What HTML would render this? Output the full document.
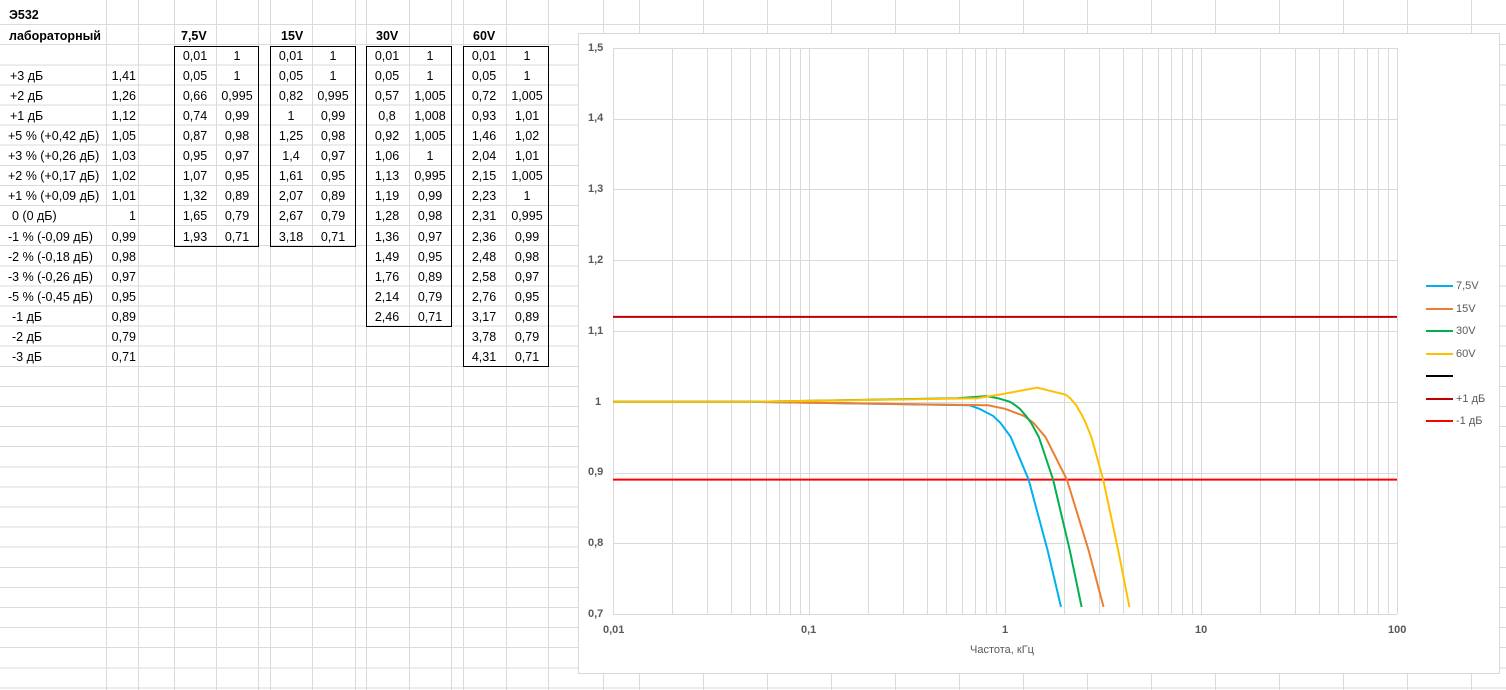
<!DOCTYPE html>
<html><head><meta charset="utf-8">
<style>
body{margin:0;width:1506px;height:690px;overflow:hidden;background:#fff;font-family:"Liberation Sans","DejaVu Sans",sans-serif;}
#sheet{position:absolute;left:0;top:0;width:1506px;height:690px;
background-image:repeating-linear-gradient(to bottom,transparent 0,transparent 19.1px,#dadada 19.1px,#dadada 20.1px);background-position:0 5px;}
.t{position:absolute;font-size:12.5px;color:#000;white-space:nowrap;line-height:20px;}
.b{font-weight:bold}
.c{text-align:center;width:42px}
.r{text-align:right;width:30px}
.box{position:absolute;border:1px solid #000;box-sizing:border-box}
svg{position:absolute;left:0;top:0}
</style></head><body>
<div id="sheet"></div>
<svg id="g" width="1506" height="690"></svg>
<div class="t b" style="left:9px;top:5px">Э532</div>
<div class="t b" style="left:9px;top:26px">лабораторный</div>
<div class="t b" style="left:181px;top:26px">7,5V</div>
<div class="t b" style="left:281px;top:26px">15V</div>
<div class="t b" style="left:376px;top:26px">30V</div>
<div class="t b" style="left:473px;top:26px">60V</div>
<div id="cells"></div>
<div class="box" style="left:174px;top:46px;width:85px;height:201px"></div>
<div class="box" style="left:270px;top:46px;width:86px;height:201px"></div>
<div class="box" style="left:366px;top:46px;width:86px;height:281px"></div>
<div class="box" style="left:463px;top:46px;width:86px;height:321px"></div>
<div id="chart" style="position:absolute;left:578px;top:33px;width:922px;height:641px;border:1px solid #d9d9d9;background:#fff;box-sizing:border-box"></div>
<svg id="c" width="1506" height="690"></svg>
<div class="t" style="left:588px;top:38px;font-size:11px;color:#595959;font-weight:bold">1,5</div>
<div class="t" style="left:588px;top:108px;font-size:11px;color:#595959;font-weight:bold">1,4</div>
<div class="t" style="left:588px;top:179px;font-size:11px;color:#595959;font-weight:bold">1,3</div>
<div class="t" style="left:588px;top:250px;font-size:11px;color:#595959;font-weight:bold">1,2</div>
<div class="t" style="left:588px;top:321px;font-size:11px;color:#595959;font-weight:bold">1,1</div>
<div class="t" style="left:595px;top:392px;font-size:11px;color:#595959;font-weight:bold">1</div>
<div class="t" style="left:588px;top:462px;font-size:11px;color:#595959;font-weight:bold">0,9</div>
<div class="t" style="left:588px;top:533px;font-size:11px;color:#595959;font-weight:bold">0,8</div>
<div class="t" style="left:588px;top:604px;font-size:11px;color:#595959;font-weight:bold">0,7</div>
<div class="t" style="left:603px;top:620px;font-size:11px;color:#595959;font-weight:bold">0,01</div>
<div class="t" style="left:801px;top:620px;font-size:11px;color:#595959;font-weight:bold">0,1</div>
<div class="t" style="left:1002px;top:620px;font-size:11px;color:#595959;font-weight:bold">1</div>
<div class="t" style="left:1195px;top:620px;font-size:11px;color:#595959;font-weight:bold">10</div>
<div class="t" style="left:1388px;top:620px;font-size:11px;color:#595959;font-weight:bold">100</div>
<div class="t" style="left:970px;top:640px;font-size:11px;color:#595959">Частота, кГц</div>
<div class="t" style="left:1456px;top:276px;font-size:11px;color:#595959">7,5V</div>
<div class="t" style="left:1456px;top:299px;font-size:11px;color:#595959">15V</div>
<div class="t" style="left:1456px;top:321px;font-size:11px;color:#595959">30V</div>
<div class="t" style="left:1456px;top:344px;font-size:11px;color:#595959">60V</div>
<div class="t" style="left:1456px;top:389px;font-size:11px;color:#595959">+1 дБ</div>
<div class="t" style="left:1456px;top:411px;font-size:11px;color:#595959">-1 дБ</div>
<div class="t" style="left:10px;top:66px"> +3 дБ</div><div class="t r" style="left:106px;top:66px">1,41</div>
<div class="t" style="left:10px;top:86px"> +2 дБ</div><div class="t r" style="left:106px;top:86px">1,26</div>
<div class="t" style="left:10px;top:106px"> +1 дБ</div><div class="t r" style="left:106px;top:106px">1,12</div>
<div class="t" style="left:8px;top:126px">+5 % (+0,42 дБ)</div><div class="t r" style="left:106px;top:126px">1,05</div>
<div class="t" style="left:8px;top:146px">+3 % (+0,26 дБ)</div><div class="t r" style="left:106px;top:146px">1,03</div>
<div class="t" style="left:8px;top:166px">+2 % (+0,17 дБ)</div><div class="t r" style="left:106px;top:166px">1,02</div>
<div class="t" style="left:8px;top:186px">+1 % (+0,09 дБ)</div><div class="t r" style="left:106px;top:186px">1,01</div>
<div class="t" style="left:12px;top:206px">0 (0 дБ)</div><div class="t r" style="left:106px;top:206px">1</div>
<div class="t" style="left:8px;top:227px">-1 % (-0,09 дБ)</div><div class="t r" style="left:106px;top:227px">0,99</div>
<div class="t" style="left:8px;top:247px">-2 % (-0,18 дБ)</div><div class="t r" style="left:106px;top:247px">0,98</div>
<div class="t" style="left:8px;top:267px">-3 % (-0,26 дБ)</div><div class="t r" style="left:106px;top:267px">0,97</div>
<div class="t" style="left:8px;top:287px">-5 % (-0,45 дБ)</div><div class="t r" style="left:106px;top:287px">0,95</div>
<div class="t" style="left:12px;top:307px">-1 дБ</div><div class="t r" style="left:106px;top:307px">0,89</div>
<div class="t" style="left:12px;top:327px">-2 дБ</div><div class="t r" style="left:106px;top:327px">0,79</div>
<div class="t" style="left:12px;top:347px">-3 дБ</div><div class="t r" style="left:106px;top:347px">0,71</div>

<div class="t c" style="left:174px;top:46px">0,01</div><div class="t c" style="left:216px;top:46px">1</div>
<div class="t c" style="left:174px;top:66px">0,05</div><div class="t c" style="left:216px;top:66px">1</div>
<div class="t c" style="left:174px;top:86px">0,66</div><div class="t c" style="left:216px;top:86px">0,995</div>
<div class="t c" style="left:174px;top:106px">0,74</div><div class="t c" style="left:216px;top:106px">0,99</div>
<div class="t c" style="left:174px;top:126px">0,87</div><div class="t c" style="left:216px;top:126px">0,98</div>
<div class="t c" style="left:174px;top:146px">0,95</div><div class="t c" style="left:216px;top:146px">0,97</div>
<div class="t c" style="left:174px;top:166px">1,07</div><div class="t c" style="left:216px;top:166px">0,95</div>
<div class="t c" style="left:174px;top:186px">1,32</div><div class="t c" style="left:216px;top:186px">0,89</div>
<div class="t c" style="left:174px;top:206px">1,65</div><div class="t c" style="left:216px;top:206px">0,79</div>
<div class="t c" style="left:174px;top:227px">1,93</div><div class="t c" style="left:216px;top:227px">0,71</div>

<div class="t c" style="left:270px;top:46px">0,01</div><div class="t c" style="left:312px;top:46px">1</div>
<div class="t c" style="left:270px;top:66px">0,05</div><div class="t c" style="left:312px;top:66px">1</div>
<div class="t c" style="left:270px;top:86px">0,82</div><div class="t c" style="left:312px;top:86px">0,995</div>
<div class="t c" style="left:270px;top:106px">1</div><div class="t c" style="left:312px;top:106px">0,99</div>
<div class="t c" style="left:270px;top:126px">1,25</div><div class="t c" style="left:312px;top:126px">0,98</div>
<div class="t c" style="left:270px;top:146px">1,4</div><div class="t c" style="left:312px;top:146px">0,97</div>
<div class="t c" style="left:270px;top:166px">1,61</div><div class="t c" style="left:312px;top:166px">0,95</div>
<div class="t c" style="left:270px;top:186px">2,07</div><div class="t c" style="left:312px;top:186px">0,89</div>
<div class="t c" style="left:270px;top:206px">2,67</div><div class="t c" style="left:312px;top:206px">0,79</div>
<div class="t c" style="left:270px;top:227px">3,18</div><div class="t c" style="left:312px;top:227px">0,71</div>

<div class="t c" style="left:366px;top:46px">0,01</div><div class="t c" style="left:409px;top:46px">1</div>
<div class="t c" style="left:366px;top:66px">0,05</div><div class="t c" style="left:409px;top:66px">1</div>
<div class="t c" style="left:366px;top:86px">0,57</div><div class="t c" style="left:409px;top:86px">1,005</div>
<div class="t c" style="left:366px;top:106px">0,8</div><div class="t c" style="left:409px;top:106px">1,008</div>
<div class="t c" style="left:366px;top:126px">0,92</div><div class="t c" style="left:409px;top:126px">1,005</div>
<div class="t c" style="left:366px;top:146px">1,06</div><div class="t c" style="left:409px;top:146px">1</div>
<div class="t c" style="left:366px;top:166px">1,13</div><div class="t c" style="left:409px;top:166px">0,995</div>
<div class="t c" style="left:366px;top:186px">1,19</div><div class="t c" style="left:409px;top:186px">0,99</div>
<div class="t c" style="left:366px;top:206px">1,28</div><div class="t c" style="left:409px;top:206px">0,98</div>
<div class="t c" style="left:366px;top:227px">1,36</div><div class="t c" style="left:409px;top:227px">0,97</div>
<div class="t c" style="left:366px;top:247px">1,49</div><div class="t c" style="left:409px;top:247px">0,95</div>
<div class="t c" style="left:366px;top:267px">1,76</div><div class="t c" style="left:409px;top:267px">0,89</div>
<div class="t c" style="left:366px;top:287px">2,14</div><div class="t c" style="left:409px;top:287px">0,79</div>
<div class="t c" style="left:366px;top:307px">2,46</div><div class="t c" style="left:409px;top:307px">0,71</div>

<div class="t c" style="left:463px;top:46px">0,01</div><div class="t c" style="left:506px;top:46px">1</div>
<div class="t c" style="left:463px;top:66px">0,05</div><div class="t c" style="left:506px;top:66px">1</div>
<div class="t c" style="left:463px;top:86px">0,72</div><div class="t c" style="left:506px;top:86px">1,005</div>
<div class="t c" style="left:463px;top:106px">0,93</div><div class="t c" style="left:506px;top:106px">1,01</div>
<div class="t c" style="left:463px;top:126px">1,46</div><div class="t c" style="left:506px;top:126px">1,02</div>
<div class="t c" style="left:463px;top:146px">2,04</div><div class="t c" style="left:506px;top:146px">1,01</div>
<div class="t c" style="left:463px;top:166px">2,15</div><div class="t c" style="left:506px;top:166px">1,005</div>
<div class="t c" style="left:463px;top:186px">2,23</div><div class="t c" style="left:506px;top:186px">1</div>
<div class="t c" style="left:463px;top:206px">2,31</div><div class="t c" style="left:506px;top:206px">0,995</div>
<div class="t c" style="left:463px;top:227px">2,36</div><div class="t c" style="left:506px;top:227px">0,99</div>
<div class="t c" style="left:463px;top:247px">2,48</div><div class="t c" style="left:506px;top:247px">0,98</div>
<div class="t c" style="left:463px;top:267px">2,58</div><div class="t c" style="left:506px;top:267px">0,97</div>
<div class="t c" style="left:463px;top:287px">2,76</div><div class="t c" style="left:506px;top:287px">0,95</div>
<div class="t c" style="left:463px;top:307px">3,17</div><div class="t c" style="left:506px;top:307px">0,89</div>
<div class="t c" style="left:463px;top:327px">3,78</div><div class="t c" style="left:506px;top:327px">0,79</div>
<div class="t c" style="left:463px;top:347px">4,31</div><div class="t c" style="left:506px;top:347px">0,71</div>

<script>
var NS="http://www.w3.org/2000/svg";
function ln(svg,x1,y1,x2,y2,col,w){var l=document.createElementNS(NS,"line");l.setAttribute("x1",x1);l.setAttribute("y1",y1);l.setAttribute("x2",x2);l.setAttribute("y2",y2);l.setAttribute("stroke",col);l.setAttribute("stroke-width",w||1);svg.appendChild(l);}
var g=document.getElementById("g");
[106,138,174,216,258,270,312,355,366,409,451,463,506,548,603,639,703,767,831,895,959,1023,1087,1151,1215,1279,1343,1407,1471].forEach(function(x){ln(g,x+0.5,0,x+0.5,690,"#dadada");});
var c=document.getElementById("c");
function X(f){return 613+196*(Math.log10(f)+2);}
function Y(v){return 614-(v-0.7)*707.5;}
for(var d=-2;d<2;d++)for(var k=1;k<10;k++){var x=Math.round(X(k*Math.pow(10,d)))+0.5;ln(c,x,48,x,614,"#d9d9d9");}
ln(c,1397.5,48,1397.5,614,"#d9d9d9");
for(var i=0;i<=8;i++){var y=Math.round(Y(0.7+i*0.1))+0.5;ln(c,613,y,1397,y,"#d9d9d9");}
var S=[["#00B0F0",[[0.01,1],[0.05,1],[0.66,0.995],[0.74,0.99],[0.87,0.98],[0.95,0.97],[1.07,0.95],[1.32,0.89],[1.65,0.79],[1.93,0.71]]],
["#ED7D31",[[0.01,1],[0.05,1],[0.82,0.995],[1,0.99],[1.25,0.98],[1.4,0.97],[1.61,0.95],[2.07,0.89],[2.67,0.79],[3.18,0.71]]],
["#00B050",[[0.01,1],[0.05,1],[0.57,1.005],[0.8,1.008],[0.92,1.005],[1.06,1],[1.13,0.995],[1.19,0.99],[1.28,0.98],[1.36,0.97],[1.49,0.95],[1.76,0.89],[2.14,0.79],[2.46,0.71]]],
["#FFC000",[[0.01,1],[0.05,1],[0.72,1.005],[0.93,1.01],[1.46,1.02],[2.04,1.01],[2.15,1.005],[2.23,1],[2.31,0.995],[2.36,0.99],[2.48,0.98],[2.58,0.97],[2.76,0.95],[3.17,0.89],[3.78,0.79],[4.31,0.71]]]];
ln(c,613,Y(1.12),1397,Y(1.12),"#C00000",2);
ln(c,613,Y(0.89),1397,Y(0.89),"#FF0000",2);
S.forEach(function(s){var p=document.createElementNS(NS,"polyline");p.setAttribute("points",s[1].map(function(q){return X(q[0]).toFixed(1)+","+Y(q[1]).toFixed(1);}).join(" "));p.setAttribute("fill","none");p.setAttribute("stroke",s[0]);p.setAttribute("stroke-width",2);c.appendChild(p);});
[["#00B0F0",286],["#ED7D31",309],["#00B050",331],["#FFC000",354],["#000000",376],["#C00000",399],["#FF0000",421]].forEach(function(e){ln(c,1426,e[1],1453,e[1],e[0],2);});
</script>
</body></html>
